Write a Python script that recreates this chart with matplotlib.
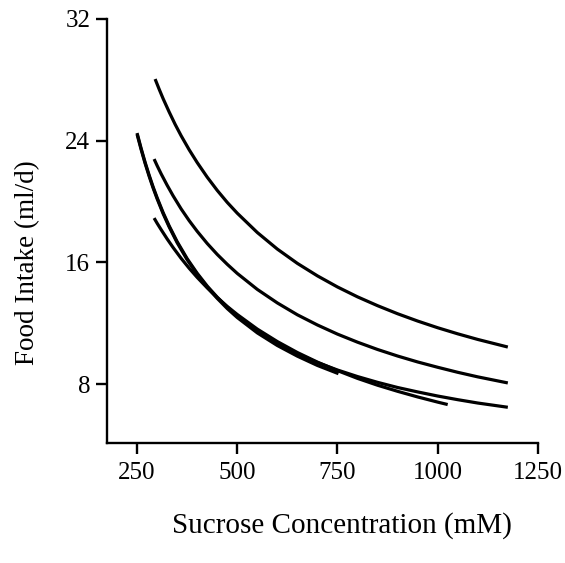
import matplotlib
matplotlib.use("Agg")
import matplotlib.pyplot as plt

# Curve data (sucrose mM -> food intake ml/d)
xA = [295, 305, 315, 330, 345, 360, 380, 400, 425, 450, 475, 500, 550, 600, 650, 700,
      750, 800, 850, 900, 950, 1000, 1050, 1100, 1175]
yA = [28.05, 27.39, 26.76, 25.89, 25.07, 24.32, 23.40, 22.56, 21.60, 20.73, 19.94, 19.23,
      17.96, 16.87, 15.93, 15.11, 14.38, 13.73, 13.15, 12.62, 12.14, 11.70, 11.30, 10.93, 10.43]

xB = [292.5, 300, 310, 325, 340, 360, 380, 400, 425, 450, 475, 500, 550, 600, 650, 700,
      750, 800, 850, 900, 950, 1000, 1050, 1100, 1175]
yB = [22.79, 22.36, 21.82, 21.07, 20.37, 19.51, 18.74, 18.04, 17.24, 16.52, 15.87, 15.27,
      14.22, 13.33, 12.55, 11.88, 11.28, 10.75, 10.27, 9.84, 9.45, 9.10, 8.77, 8.47, 8.07]

xC = [250, 260, 270, 280, 290, 300, 315, 330, 350, 375, 400, 425, 450, 475, 500, 550, 600,
      650, 700, 750, 800, 850, 900, 950, 1000, 1050, 1100, 1175]
yC = [24.50, 23.50, 22.58, 21.74, 20.96, 20.25, 19.27, 18.40, 17.36, 16.24, 15.28, 14.44,
      13.71, 13.06, 12.47, 11.48, 10.67, 9.99, 9.41, 8.92, 8.49, 8.11, 7.77, 7.48, 7.21,
      6.97, 6.75, 6.47]

xD = [292.5, 300, 310, 325, 340, 360, 380, 400, 425, 450, 475, 500, 550, 600, 650, 700,
      750, 800, 850, 900, 950, 1000, 1025]
yD = [18.91, 18.57, 18.15, 17.54, 16.97, 16.26, 15.61, 15.01, 14.32, 13.68, 13.10, 12.57,
      11.61, 10.79, 10.07, 9.44, 8.88, 8.37, 7.92, 7.52, 7.15, 6.81, 6.65]

xE = [250, 260, 270, 280, 290, 300, 315, 330, 350, 375, 400, 425, 450, 475, 500, 550, 600,
      650, 700, 752.5]
yE = [24.42, 23.43, 22.51, 21.67, 20.89, 20.18, 19.20, 18.33, 17.29, 16.17, 15.21, 14.37,
      13.63, 12.96, 12.37, 11.36, 10.53, 9.83, 9.22, 8.68]

xticks = [250, 500, 750, 1000, 1250]
yticks = [8, 16, 24, 32]

plt.rcParams['font.family'] = ['Liberation Serif', 'DejaVu Serif']

fig = plt.figure(figsize=(5.65, 5.63), dpi=100)
ax = fig.add_axes([0.1894, 0.2131, 0.952 - 0.1894, 0.9663 - 0.2131])

for xs, ys in [(xA, yA), (xB, yB), (xC, yC), (xD, yD), (xE, yE)]:
    ax.plot(xs, ys, color='black', lw=2.3, solid_capstyle='butt', solid_joinstyle='round')

ax.set_xlim(175, 1250)
ax.set_ylim(4.12, 32)
ax.set_xticks(xticks)
ax.set_yticks(yticks)
ax.spines['top'].set_visible(False)
ax.spines['right'].set_visible(False)
for s in ['left', 'bottom']:
    ax.spines[s].set_linewidth(1.7)
ax.tick_params(direction='out', length=8, width=1.7, labelsize=18)
ax.tick_params(axis='x', pad=6)
ax.tick_params(axis='y', pad=4)

ax.set_xlabel('Sucrose Concentration (mM)', fontsize=21)
ax.set_ylabel('Food Intake (ml/d)', fontsize=19.5)
ax.xaxis.set_label_coords(0.545, -0.163)
ax.yaxis.set_label_coords(-0.155, 0.4245)

fig.savefig('out.png', dpi=100)
